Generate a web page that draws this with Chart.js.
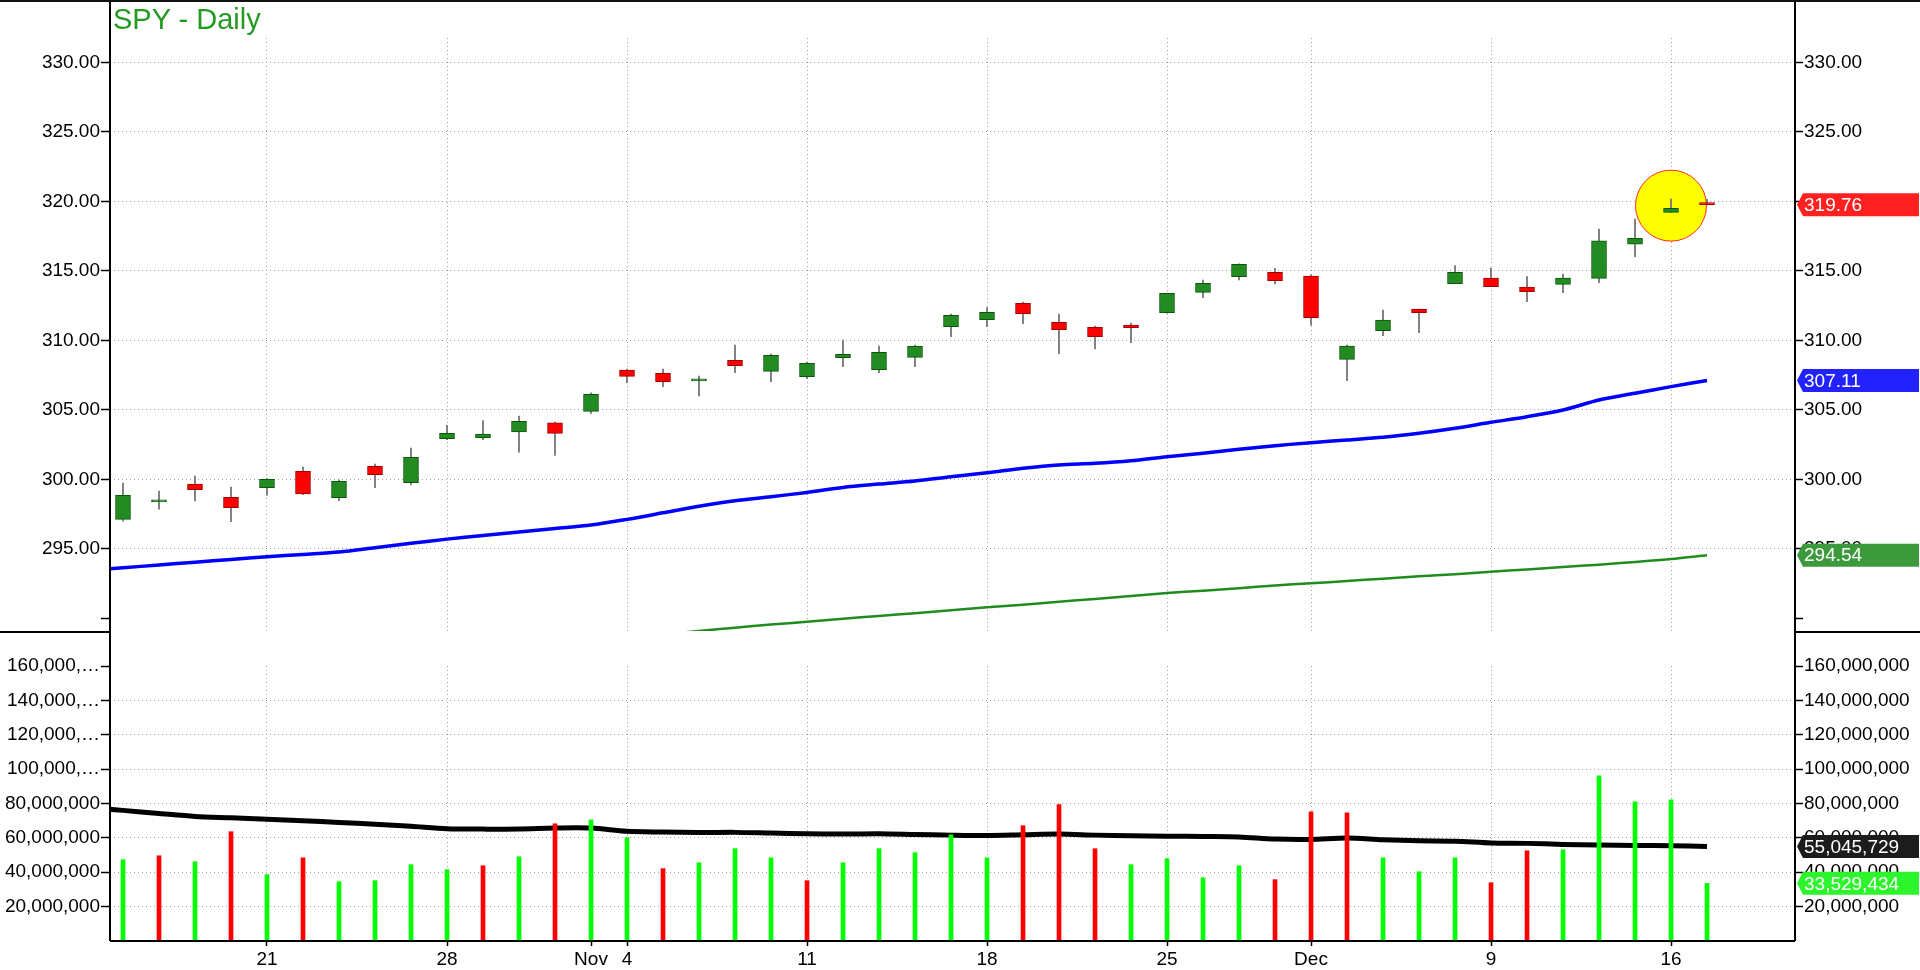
<!DOCTYPE html>
<html>
<head>
<meta charset="utf-8">
<title>SPY - Daily</title>
<script src="https://cdn.jsdelivr.net/npm/chart.js@4.4.1/dist/chart.umd.min.js"></script>
<style>
  html, body { margin: 0; padding: 0; background: #fff; }
  body { width: 1920px; height: 970px; position: relative; overflow: hidden; font-family: "Liberation Sans", Arial, sans-serif; }
  #topline { position: absolute; left: 0; top: 0; width: 1920px; height: 2px; background: #111; z-index: 3; }
  #title { position: absolute; left: 113px; top: 5px; font-size: 29px; line-height: 29px; color: #239b23; z-index: 2; }
  #pricePane { position: absolute; left: 0; top: 0; width: 1920px; height: 632px; }
  #volPane { position: absolute; left: 0; top: 631px; width: 1920px; height: 339px; }
</style>
</head>
<body>
<div id="topline"></div>
<div id="title">SPY - Daily</div>
<div id="pricePane"><canvas id="priceChart"></canvas></div>
<div id="volPane"><canvas id="volChart"></canvas></div>

<script>
// trading days shown, Oct 15 - Dec 17 2019
var dates = ['Oct 15','Oct 16','Oct 17','Oct 18','Oct 21','Oct 22','Oct 23','Oct 24','Oct 25',
  'Oct 28','Oct 29','Oct 30','Oct 31','Nov 1','Nov 4','Nov 5','Nov 6','Nov 7','Nov 8',
  'Nov 11','Nov 12','Nov 13','Nov 14','Nov 15','Nov 18','Nov 19','Nov 20','Nov 21','Nov 22',
  'Nov 25','Nov 26','Nov 27','Nov 29','Dec 2','Dec 3','Dec 4','Dec 5','Dec 6',
  'Dec 9','Dec 10','Dec 11','Dec 12','Dec 13','Dec 16','Dec 17'];

var open  = [297.12,298.38,299.66,298.70,299.40,300.58,298.68,300.94,299.76,302.92,302.99,303.42,304.07,304.89,307.86,
             307.63,307.08,308.56,307.77,307.39,308.75,307.89,308.78,310.98,311.49,312.66,311.29,310.94,311.10,311.99,
             313.45,314.58,314.89,314.63,308.63,310.70,312.25,314.08,314.48,313.84,314.03,314.46,316.91,319.21,319.90];
var high  = [299.73,299.16,300.24,299.45,300.05,300.88,299.95,301.10,302.25,303.88,304.22,304.55,304.12,306.23,307.94,
             307.94,307.43,309.66,309.02,308.44,310.02,309.59,309.66,311.89,312.35,312.76,311.89,311.03,311.25,313.40,
             314.34,315.50,315.18,314.72,309.66,312.18,312.25,315.37,315.20,314.58,314.77,318.01,318.73,320.17,320.15];
var low   = [297.00,297.86,298.44,296.95,298.87,298.90,298.46,299.40,299.59,302.85,302.85,301.96,301.73,304.75,306.95,
             306.67,306.00,307.67,307.03,307.24,308.11,307.67,308.11,310.26,310.98,311.20,309.04,309.38,309.83,311.95,
             313.07,314.34,314.05,311.10,307.10,310.34,310.55,314.08,313.86,312.78,313.43,314.15,316.02,319.21,319.74];
var close = [298.85,298.42,299.25,297.96,300.00,298.96,299.86,300.33,301.58,303.31,303.26,304.17,303.31,306.11,307.41,
             307.03,307.12,308.18,308.92,308.35,308.99,309.14,309.57,311.80,312.01,311.92,310.77,310.26,310.91,313.38,
             314.10,315.47,314.29,311.63,309.59,311.46,311.99,314.89,313.86,313.50,314.48,317.15,317.34,319.50,319.76];

// moving averages (the "Prev" value is the day before the first candle, so the line reaches the axis)
var sma50Prev = 293.45;
var sma50 = [293.64,293.84,294.04,294.24,294.43,294.60,294.77,295.08,295.40,295.70,295.96,296.21,296.46,296.71,297.12,
             297.59,298.06,298.46,298.75,299.06,299.42,299.66,299.88,300.19,300.47,300.79,301.03,301.15,301.34,301.63,
             301.87,302.16,302.42,302.64,302.83,303.02,303.31,303.67,304.10,304.51,304.99,305.71,306.19,306.67,307.11];
var sma200 = [null,null,null,null,null,null,null,null,null,null,null,null,null,288.45,288.65,
              288.86,289.09,289.33,289.55,289.76,289.97,290.17,290.37,290.58,290.79,290.98,291.19,291.40,291.61,291.82,
              291.99,292.17,292.37,292.52,292.69,292.85,293.02,293.18,293.35,293.52,293.70,293.86,294.06,294.27,294.54];

// volume in millions of shares
var volume = [47.3,49.6,46.1,63.6,38.6,48.4,34.5,35.1,44.4,41.5,43.8,49.0,68.2,70.5,60.1,
              42.1,45.5,53.7,48.4,35.1,45.5,53.7,51.4,61.8,48.4,67.1,79.3,53.7,44.4,47.9,
              36.8,43.8,35.7,75.2,74.6,48.4,40.3,48.4,33.9,52.5,53.1,96.1,81.0,82.2,33.529434];
var volAvgPrev = 77.6;
var volAvg = [76.0,74.2,72.5,71.7,70.9,70.0,69.0,67.9,66.7,65.3,65.1,65.1,65.7,65.7,63.8,
              63.4,63.1,63.2,62.8,62.4,62.2,62.4,62.0,61.6,61.4,61.8,62.2,61.6,61.2,61.0,
              60.8,60.5,59.3,59.1,59.9,58.9,58.3,58.1,57.0,56.8,56.2,55.8,55.6,55.4,55.045729];

// highlighted bar (Dec 16)
var markIdx = 43;
var markPrice = 319.69;

// axes
var tickIdx = [4, 9, 13, 14, 19, 24, 29, 33, 38, 43];
var tickLabels = ['21', '28', 'Nov', '4', '11', '18', '25', 'Dec', '9', '16'];
var priceTicks = [290, 295, 300, 305, 310, 315, 320, 325, 330];
var volTicks = [20, 40, 60, 80, 100, 120, 140, 160];
var priceMin = 289.09, priceMax = 331.75;
var volMin = 0, volMax = 160;
var xMin = -0.361, xMax = 46.444;

var FONT = 'Liberation Sans';
Chart.defaults.font.family = FONT;
Chart.defaults.font.size = 19;
Chart.defaults.color = '#000';

var GRID = '#a0a0a0';
var idx = dates.map(function (d, i) { return i; });

function fmtVol(v) {
  return Math.round(v * 1e6).toLocaleString('en-US');
}

function drawTag(ctx, area, y, text, bg) {
  var x0 = area.right + 2, x1 = 1919, h = 23, nose = 6;
  ctx.save();
  ctx.fillStyle = bg;
  ctx.beginPath();
  ctx.moveTo(x0, y);
  ctx.lineTo(x0 + nose, y - h / 2);
  ctx.lineTo(x1, y - h / 2);
  ctx.lineTo(x1, y + h / 2);
  ctx.lineTo(x0 + nose, y + h / 2);
  ctx.closePath();
  ctx.fill();
  ctx.fillStyle = '#fff';
  ctx.font = '19px "' + FONT + '"';
  ctx.textBaseline = 'middle';
  ctx.textAlign = 'left';
  ctx.fillText(text, x0 + 7, y + 1);
  ctx.restore();
}

var priceFrame = {
  id: 'priceFrame',
  afterDraw: function (chart) {
    var ctx = chart.ctx, a = chart.chartArea, y = chart.scales.y;
    ctx.save();
    ctx.strokeStyle = '#000';
    ctx.lineWidth = 2;
    ctx.beginPath();
    ctx.moveTo(a.left, 0); ctx.lineTo(a.left, chart.height);
    ctx.moveTo(a.right, 0); ctx.lineTo(a.right, chart.height);
    ctx.stroke();
    ctx.restore();
    var n = close.length - 1;
    drawTag(ctx, a, y.getPixelForValue(close[n]), close[n].toFixed(2), '#ff2020');
    drawTag(ctx, a, y.getPixelForValue(sma50[n]), sma50[n].toFixed(2), '#2222ff');
    drawTag(ctx, a, y.getPixelForValue(sma200[n]), sma200[n].toFixed(2), '#3c993c');
  }
};

var volFrame = {
  id: 'volFrame',
  afterDraw: function (chart) {
    var ctx = chart.ctx, a = chart.chartArea, y = chart.scales.y;
    ctx.save();
    ctx.strokeStyle = '#000';
    ctx.lineWidth = 2;
    ctx.beginPath();
    ctx.moveTo(a.left, 0); ctx.lineTo(a.left, a.bottom);
    ctx.moveTo(a.right, 0); ctx.lineTo(a.right, a.bottom);
    ctx.moveTo(a.left, a.bottom); ctx.lineTo(a.right, a.bottom);
    ctx.moveTo(0, 1); ctx.lineTo(a.left, 1);
    ctx.moveTo(a.right, 1); ctx.lineTo(chart.width, 1);
    ctx.stroke();
    ctx.restore();
    var n = volume.length - 1;
    drawTag(ctx, a, y.getPixelForValue(volAvg[n]), fmtVol(volAvg[n]), '#1c1c1c');
    drawTag(ctx, a, y.getPixelForValue(volume[n]), fmtVol(volume[n]), '#2cf52c');
  }
};

function yAxis(pos, min, max, tickList, fmt, hideValue, onChart) {
  return {
    type: 'linear',
    position: pos,
    min: min,
    max: max,
    afterBuildTicks: function (s) { s.ticks = tickList.map(function (v) { return { value: v }; }); },
    afterFit: function (s) {
      s.width = pos === 'left' ? 110 : 125;
      // keep the plot area at the exact pane size
      s.paddingTop = 0;
      s.paddingBottom = 0;
    },
    grid: {
      drawOnChartArea: onChart,
      color: function (c) { return c.tick && c.tick.value === hideValue ? 'rgba(0,0,0,0)' : GRID; },
      lineWidth: 1,
      tickLength: pos === 'left' ? 9 : 8,
      tickColor: '#000',
      tickWidth: 1.5,
      tickBorderDash: []
    },
    border: { display: false, dash: [1, 3] },
    ticks: { autoSkip: false, padding: 1, color: '#000', font: { size: 19 }, callback: fmt }
  };
}

function xAxis(withLabels) {
  return {
    type: 'linear',
    min: xMin,
    max: xMax,
    offset: false,
    afterBuildTicks: function (s) {
      var list = withLabels ? tickIdx : tickIdx.filter(function (v) { return v !== 13; });
      s.ticks = list.map(function (v) { return { value: v }; });
    },
    afterFit: function (s) {
      s.height = withLabels ? 29 : 0;
      s.paddingLeft = 0;
      s.paddingRight = 0;
    },
    grid: {
      offset: false,
      drawTicks: withLabels,
      tickLength: 5,
      tickColor: '#000',
      tickWidth: 1.5,
      tickBorderDash: [],
      color: function (c) { return c.tick && c.tick.value === 13 ? 'rgba(0,0,0,0)' : GRID; }
    },
    border: { display: false, dash: [1, 3] },
    ticks: {
      display: withLabels,
      autoSkip: false,
      maxRotation: 0,
      padding: 2,
      color: '#000',
      font: { size: 19 },
      callback: function (v) { var k = tickIdx.indexOf(v); return k < 0 ? '' : tickLabels[k]; }
    }
  };
}

var priceLabel = function (v) { return v === 290 ? '' : Number(v).toFixed(2); };

new Chart(document.getElementById('priceChart'), {
  type: 'bar',
  data: {
    datasets: [
      {
        label: 'Body',
        data: idx.map(function (i) { return { x: i, y: [open[i], close[i]] }; }),
        backgroundColor: idx.map(function (i) { return close[i] >= open[i] ? '#228b22' : '#ff0000'; }),
        borderColor: idx.map(function (i) { return close[i] >= open[i] ? '#0c560c' : '#a00000'; }),
        borderWidth: 1,
        borderSkipped: false,
        barThickness: 15,
        minBarLength: 2,
        grouped: false,
        order: 1
      },
      {
        label: 'Wick',
        data: idx.map(function (i) { return { x: i, y: [low[i], high[i]] }; }),
        backgroundColor: '#7a7a7a',
        barThickness: 1.2,
        grouped: false,
        order: 2
      },
      {
        type: 'line',
        label: 'SMA 50',
        data: [{ x: -1, y: sma50Prev }].concat(sma50.map(function (v, i) { return { x: i, y: v }; })),
        borderColor: '#0000ff',
        borderWidth: 3.5,
        pointRadius: 0,
        tension: 0.3,
        clip: 0,
        order: 3
      },
      {
        type: 'line',
        label: 'SMA 200',
        data: sma200.map(function (v, i) { return { x: i, y: v }; }),
        borderColor: '#1f8c1f',
        borderWidth: 2.5,
        pointRadius: 0,
        tension: 0.3,
        clip: 0,
        order: 3
      },
      {
        type: 'bubble',
        label: 'Mark',
        data: [{ x: markIdx, y: markPrice, r: 35.5 }],
        backgroundColor: '#ffff00',
        borderColor: '#ff2a2a',
        borderWidth: 1,
        order: 4
      }
    ]
  },
  options: {
    responsive: true,
    maintainAspectRatio: false,
    devicePixelRatio: 1,
    animation: false,
    events: [],
    layout: { autoPadding: false, padding: { top: 38, bottom: 1, left: 0, right: 0 } },
    plugins: { legend: { display: false }, tooltip: { enabled: false } },
    scales: {
      x: xAxis(false),
      y: yAxis('left', priceMin, priceMax, priceTicks, priceLabel, 290, true),
      yR: yAxis('right', priceMin, priceMax, priceTicks, priceLabel, 290, false)
    }
  },
  plugins: [priceFrame]
});

new Chart(document.getElementById('volChart'), {
  type: 'bar',
  data: {
    datasets: [
      {
        label: 'Volume',
        data: idx.map(function (i) { return { x: i, y: volume[i] }; }),
        backgroundColor: idx.map(function (i) { return i === 0 || close[i] >= close[i - 1] ? '#00ff00' : '#ff0000'; }),
        barThickness: 4,
        grouped: false,
        order: 1
      },
      {
        type: 'line',
        label: 'Volume avg',
        data: [{ x: -1, y: volAvgPrev }].concat(volAvg.map(function (v, i) { return { x: i, y: v }; })),
        borderColor: '#000',
        borderWidth: 5,
        pointRadius: 0,
        tension: 0.3,
        clip: 0,
        order: 2
      }
    ]
  },
  options: {
    responsive: true,
    maintainAspectRatio: false,
    devicePixelRatio: 1,
    animation: false,
    events: [],
    layout: { autoPadding: false, padding: { top: 35, bottom: 0, left: 0, right: 0 } },
    plugins: { legend: { display: false }, tooltip: { enabled: false } },
    scales: {
      x: xAxis(true),
      y: yAxis('left', volMin, volMax, volTicks, function (v) {
        var s = fmtVol(v);
        return s.length > 10 ? s.slice(0, 8) + '\u2026' : s;
      }, 160, true),
      yR: yAxis('right', volMin, volMax, volTicks, function (v) { return fmtVol(v); }, 160, false)
    }
  },
  plugins: [volFrame]
});
</script>
</body>
</html>
